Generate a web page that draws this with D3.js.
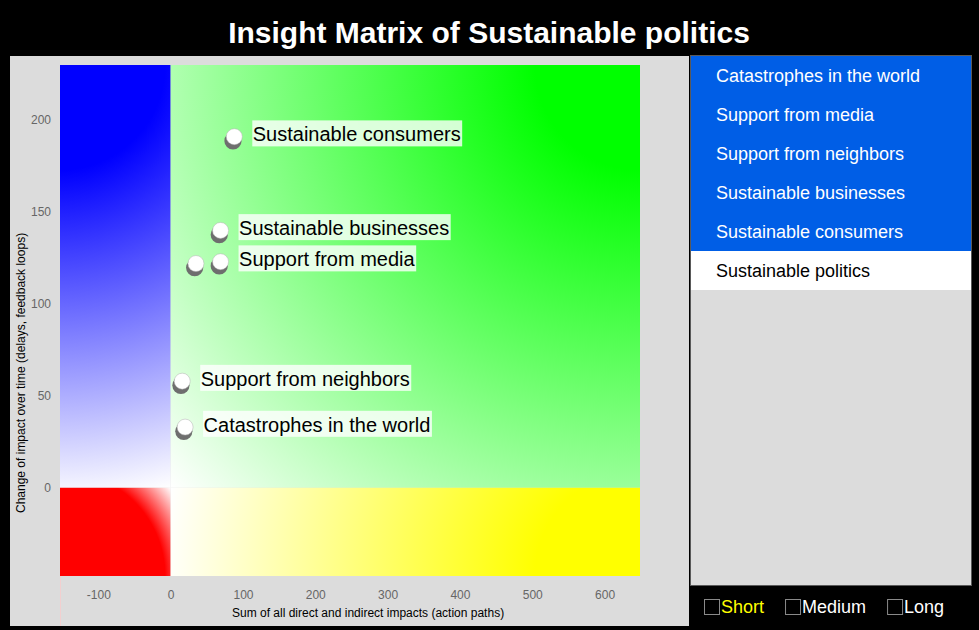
<!DOCTYPE html>
<html>
<head>
<meta charset="utf-8">
<script src="https://cdn.jsdelivr.net/npm/d3@7"></script>
<style>
  html, body { margin: 0; padding: 0; background: #000; }
  svg { display: block; font-family: "Liberation Sans", Arial, Helvetica, sans-serif; }
</style>
</head>
<body>
<svg id="chart" width="979" height="630"></svg>
<script>
// ---- data ----
const title = "Insight Matrix of Sustainable politics";
const categories = [
  "Catastrophes in the world",
  "Support from media",
  "Support from neighbors",
  "Sustainable businesses",
  "Sustainable consumers",
  "Sustainable politics"
];
const xValues = [20, 69, 16, 69, 88, 35];      // sum of direct & indirect impacts
const yValues = [33, 123, 58, 140, 191, 122];  // change of impact over time
const selected = [true, true, true, true, true, false];
const xTicks = [-100, 0, 100, 200, 300, 400, 500, 600];
const yTicks = [0, 50, 100, 150, 200];
const xDomain = [-153, 649];
const yDomain = [-48, 230];
const horizons = ["Short", "Medium", "Long"];
const activeHorizon = "Short";
const xTitle = "Sum of all direct and indirect impacts (action paths)";
const yTitle = "Change of impact over time (delays, feedback loops)";

// ---- drawing ----
const svg = d3.select("#chart");
svg.append("rect").attr("width", 979).attr("height", 630).attr("fill", "#000");

svg.append("text")
  .attr("x", 489).attr("y", 43)
  .attr("text-anchor", "middle")
  .attr("fill", "#fff")
  .attr("font-weight", "bold")
  .attr("font-size", 30)
  .text(title);

// gray chart panel
svg.append("rect").attr("x", 10).attr("y", 56).attr("width", 679).attr("height", 570).attr("fill", "#dcdcdc");

const x = d3.scaleLinear().domain(xDomain).range([60, 640]);
const y = d3.scaleLinear().domain(yDomain).range([576, 65]);

const x0 = x(0), y0 = y(0);
const xl = x(xDomain[0]), xr = x(xDomain[1]);
const yt = y(yDomain[1]), yb = y(yDomain[0]);

const defs = svg.append("defs");
const quads = [
  { id: "gBlue",   color: "#0000ff", x1: xl, x2: x0, y1: yt, y2: y0, cx: xl, cy: yt },
  { id: "gGreen",  color: "#00ff00", x1: x0, x2: xr, y1: yt, y2: y0, cx: xr, cy: yt },
  { id: "gRed",    color: "#ff0000", x1: xl, x2: x0, y1: y0, y2: yb, cx: xl, cy: yb },
  { id: "gYellow", color: "#ffff00", x1: x0, x2: xr, y1: y0, y2: yb, cx: xr, cy: yb }
];
quads.forEach(q => {
  const r = Math.hypot(q.cx - x0, q.cy - y0);
  const g = defs.append("radialGradient")
    .attr("id", q.id)
    .attr("gradientUnits", "userSpaceOnUse")
    .attr("cx", q.cx).attr("cy", q.cy).attr("r", r)
    .attr("fx", q.cx).attr("fy", q.cy);
  g.append("stop").attr("offset", 0).attr("stop-color", q.color);
  g.append("stop").attr("offset", Math.min(0.95, 105 / r)).attr("stop-color", q.color);
  g.append("stop").attr("offset", 1).attr("stop-color", "#ffffff");
  svg.append("rect")
    .attr("x", q.x1).attr("y", q.y1)
    .attr("width", q.x2 - q.x1).attr("height", q.y2 - q.y1)
    .attr("fill", `url(#${q.id})`);
});

// faint axis line below plot
svg.append("line").attr("x1", xl + 0.5).attr("x2", xl + 0.5).attr("y1", yb).attr("y2", 626)
  .attr("stroke", "#f2cfcf").attr("stroke-width", 1);

// axes
const fmt = d => String(d);
const gx = svg.append("g").attr("transform", `translate(0,${yb})`)
  .call(d3.axisBottom(x).tickValues(xTicks).tickFormat(fmt).tickSize(0).tickPadding(14));
const gy = svg.append("g").attr("transform", `translate(${xl},0)`)
  .call(d3.axisLeft(y).tickValues(yTicks).tickFormat(fmt).tickSize(0).tickPadding(9));
[gx, gy].forEach(g => {
  g.select(".domain").remove();
  g.selectAll("text").attr("fill", "#666").attr("font-size", 12)
    .attr("font-family", "'Liberation Sans', Arial, Helvetica, sans-serif");
});

svg.append("text")
  .attr("x", 232).attr("y", 617)
  .attr("font-size", 12).attr("fill", "#000")
  .text(xTitle);
svg.append("text")
  .attr("transform", "translate(25,513) rotate(-90)")
  .attr("font-size", 12).attr("fill", "#000")
  .text(yTitle);

// points
const data = categories.map((c, i) => ({ name: c, xv: xValues[i], yv: yValues[i], sel: selected[i] }));
const pts = svg.append("g");
data.forEach(d => {
  const cx = x(d.xv), cy = y(d.yv);
  pts.append("circle").attr("cx", cx - 1.3).attr("cy", cy + 4.2).attr("r", 8.6).attr("fill", "#6e6e6e");
  pts.append("circle").attr("cx", cx).attr("cy", cy).attr("r", 8).attr("fill", "#fff")
    .attr("stroke", "#b0b0b0").attr("stroke-width", 0.5);
});
data.filter(d => d.sel).forEach(d => {
  const cx = x(d.xv), cy = y(d.yv);
  const g = pts.append("g");
  const rect = g.append("rect").attr("fill", "#fff").attr("fill-opacity", 0.8);
  const t = g.append("text").attr("x", cx + 18.5).attr("y", cy + 4.6)
    .attr("font-size", 20).attr("fill", "#000").text(d.name);
  const w = t.node().getComputedTextLength();
  rect.attr("x", cx + 18).attr("y", cy - 16.3).attr("width", w + 2).attr("height", 26);
});

// list panel
const listX = 690, listY = 56, listW = 282, listH = 530, rowH = 39;
svg.append("rect").attr("x", listX + 0.5).attr("y", listY - 0.5).attr("width", listW - 1).attr("height", listH)
  .attr("fill", "#dcdcdc").attr("stroke", "#5a5a5a").attr("stroke-width", 1);
const rows = svg.append("g");
categories.forEach((c, i) => {
  rows.append("rect").attr("x", listX + 1).attr("y", listY + i * rowH)
    .attr("width", listW - 2).attr("height", rowH)
    .attr("fill", selected[i] ? "#005ee6" : "#ffffff");
  rows.append("text").attr("x", listX + 26).attr("y", listY + i * rowH + 26)
    .attr("font-size", 18).attr("fill", selected[i] ? "#fff" : "#000").text(c);
});

// horizon checkboxes
let hx = 704;
horizons.forEach(h => {
  svg.append("rect").attr("x", hx + 0.5).attr("y", 599.5).attr("width", 15).attr("height", 15)
    .attr("fill", "none").attr("stroke", "#8a8a8a").attr("stroke-width", 1);
  const t = svg.append("text").attr("x", hx + 17).attr("y", 613)
    .attr("font-size", 18).attr("fill", h === activeHorizon ? "#ffff00" : "#fff").text(h);
  hx = hx + 17 + t.node().getComputedTextLength() + 21;
});
</script>
</body>
</html>
